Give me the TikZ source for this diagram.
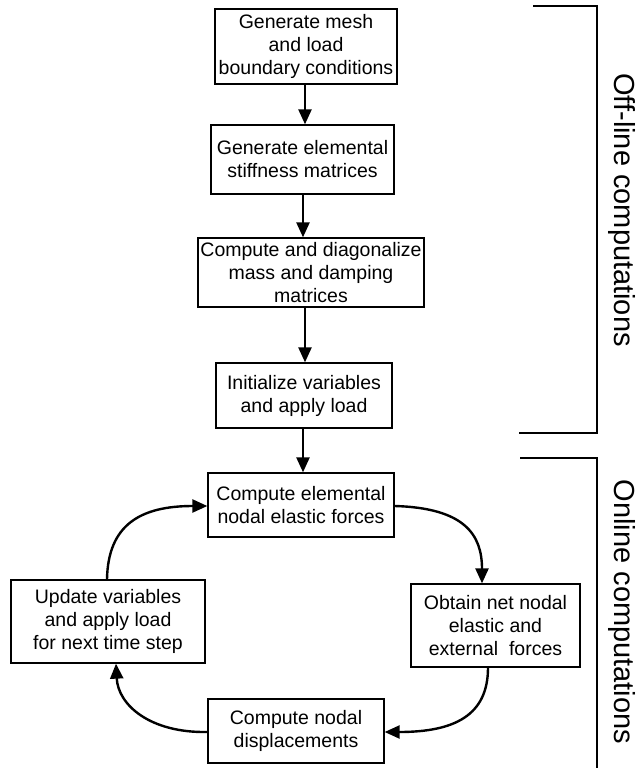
\documentclass[tikz,border=0pt]{standalone}
\usepackage{fontspec}
\setmainfont{Liberation Sans}
\usetikzlibrary{arrows.meta}
\begin{document}
\begin{tikzpicture}[x=1pt,y=-1pt,
  stepbox/.style={draw, line width=1.3pt, align=center, inner sep=0pt,
    font=\fontsize{19.5}{23}\selectfont},
  flow/.style={line width=2.4pt, -{Triangle[length=15pt,width=13pt]}},
  bracket/.style={line width=1.5pt},
  sidelabel/.style={rotate=-90, font=\fontsize{29}{30}\selectfont}]
\useasboundingbox (0,0) rectangle (640,768);

% off-line steps
\node[stepbox, minimum width=182pt, minimum height=75pt] (mesh) at (306,46.5)
  {Generate mesh\\and load\\boundary conditions};
\node[stepbox, minimum width=183pt, minimum height=69pt] (stiff) at (302.5,159.5)
  {Generate elemental\\stiffness matrices};
\node[stepbox, minimum width=226pt, minimum height=69pt] (mass) at (311,272.5)
  {Compute and diagonalize\\mass and damping\\matrices};
\node[stepbox, minimum width=176pt, minimum height=65pt] (init) at (304,395.5)
  {Initialize variables\\and apply load};

% online loop
\node[stepbox, minimum width=186pt, minimum height=64pt] (elem) at (301,505)
  {Compute elemental\\nodal elastic forces};
\node[stepbox, minimum width=194pt, minimum height=83pt] (upd) at (108,621.5)
  {Update variables\\and apply load\\for next time step};
\node[stepbox, minimum width=169pt, minimum height=83pt] (net) at (495.5,625.5)
  {Obtain net nodal\\elastic and\\external\ \ forces};
\node[stepbox, minimum width=176pt, minimum height=64pt] (disp) at (296,731)
  {Compute nodal\\displacements};

% straight connectors
\draw[flow] (mesh.south -| 305,0) -- (stiff.north -| 305,0);
\draw[flow] (stiff.south -| 303,0) -- (mass.north -| 303,0);
\draw[flow] (mass.south -| 305,0) -- (init.north -| 305,0);
\draw[flow] (init.south -| 303,0) -- (elem.north -| 303,0);

% loop connectors
\coordinate (e1) at (elem.east |- 0,506);
\coordinate (n1) at (net.north -| 482,0);
\draw[flow] (e1) .. controls (465,508) and (482,535) .. (n1);
\coordinate (n2) at (net.south -| 488,0);
\coordinate (d1) at (disp.east |- 0,732);
\draw[flow] (n2) .. controls (488,715) and (455,732) .. (d1);
\coordinate (d2) at (disp.west |- 0,732);
\coordinate (u1) at (upd.south -| 116,0);
\draw[flow] (d2) .. controls (150,733) and (118,705) .. (u1);
\coordinate (u2) at (upd.north -| 107,0);
\coordinate (e2) at (elem.west |- 0,506);
\draw[flow] (u2) .. controls (108,525) and (140,506) .. (e2);

% phase brackets
\coordinate (oa) at (533,6);
\coordinate (ob) at (597,6);
\coordinate (oc) at (597,433);
\coordinate (od) at (519,433);
\draw[bracket] (oa) -- (ob) -- (oc) -- (od);
\coordinate (na) at (520,458);
\coordinate (nb) at (597,458);
\coordinate (nc) at (597,768);
\draw[bracket] (na) -- (nb) -- (nc);

\node[sidelabel] (offl) at (622,210) {Off-line computations};
\node[sidelabel] (onl) at (622,612) {Online computations};
\end{tikzpicture}
\end{document}
